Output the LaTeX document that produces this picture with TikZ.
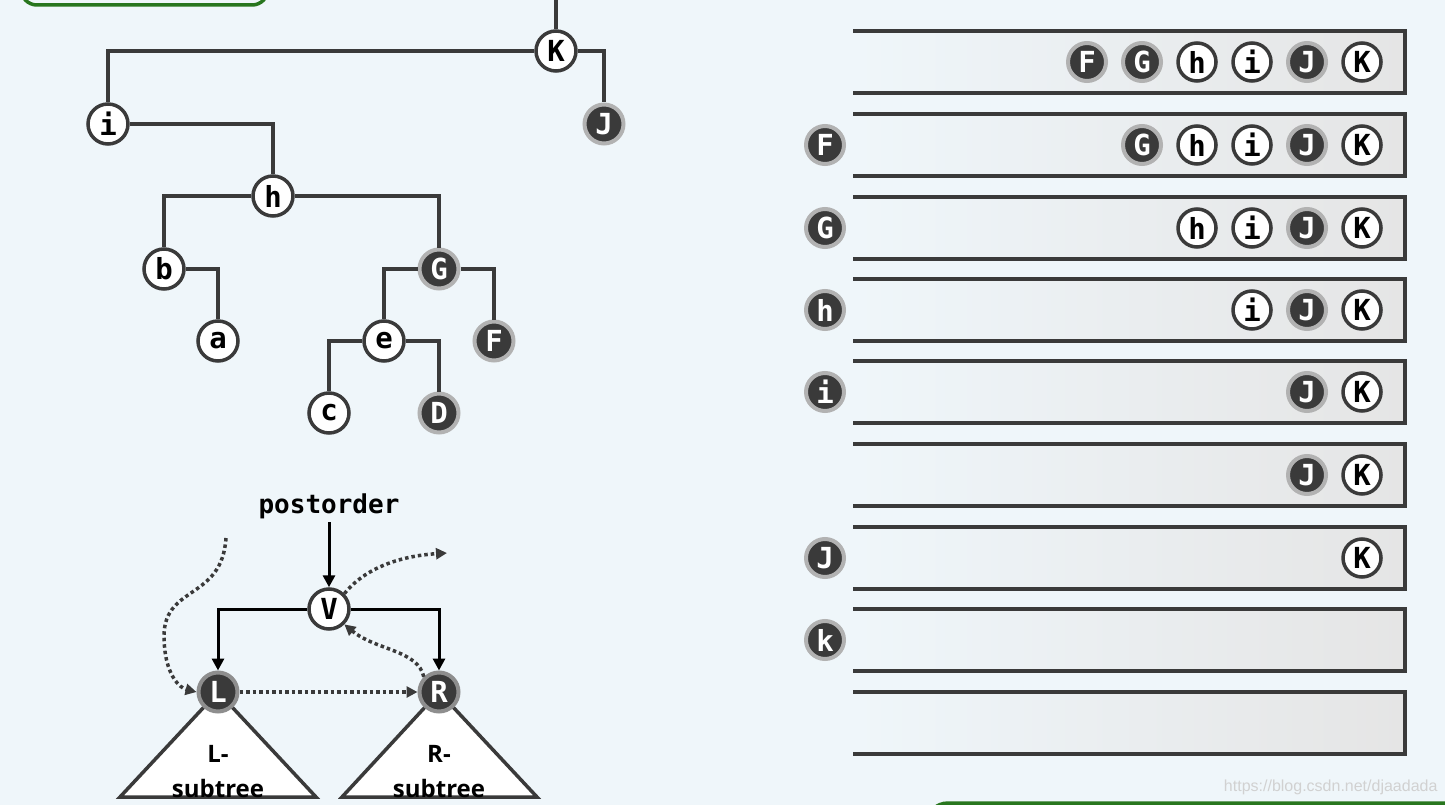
\documentclass[tikz,border=0pt]{standalone}
\usepackage{fontspec}
\setmainfont{DejaVu Sans}
\newfontfamily\nf{DejaVu Sans Mono}
\newfontfamily\lf{Open Sans}
\newfontfamily\wf{Liberation Sans}
\usetikzlibrary{arrows.meta}
\definecolor{bg}{RGB}{239,246,250}
\definecolor{dk}{RGB}{58,58,58}
\definecolor{dfill}{RGB}{58,58,58}
\definecolor{ring}{RGB}{178,178,178}
\definecolor{grn}{RGB}{40,118,30}
\definecolor{barr}{RGB}{229,229,229}
\begin{document}
\begin{tikzpicture}[x=1pt,y=-1pt,
  wn/.style={circle,draw=dk,line width=3.5pt,fill=white,minimum size=40pt,inner sep=0pt,
    font=\nf\bfseries\fontsize{29}{29}\selectfont},
  bn/.style={circle,draw=ring,line width=4pt,fill=dfill,text=white,minimum size=39pt,inner sep=0pt,
    font=\nf\bfseries\fontsize{29}{29}\selectfont},
  sw/.style={wn,minimum size=38pt},
  sb/.style={bn,minimum size=38pt},
  edge/.style={draw=dk,line width=3.5pt},
  dotarr/.style={draw=dk,line width=3.5pt,dash pattern=on 3.5pt off 3pt,-{Triangle[length=11pt,width=11pt]}},
  solarr/.style={draw=black,line width=3pt,-{Triangle[length=12pt,width=12pt]}},
  barline/.style={draw=dk,line width=4pt},
  tri/.style={draw=dk,line width=3.5pt,fill=white},
  lbl/.style={font=\lf\bfseries\fontsize{24}{24}\selectfont,text=black}
]
\useasboundingbox (0,0) rectangle (1445,805);
\fill[bg] (0,0) rectangle (1445,805);
\begin{scope}
\clip (0,0) rectangle (1445,805);
% green boxes
\draw[grn,line width=3.5pt,rounded corners=16pt] (21,-40) rectangle (268,5);
\draw[grn,line width=3.5pt,rounded corners=22pt] (926,803) rectangle (1500,860);
% watermark
\node[font=\wf\fontsize{16}{16}\selectfont,text=black!18,anchor=east] (wm) at (1441,787) {https://blog.csdn.net/djaadada};

% ---------- tree ----------
\coordinate (top) at (556,-5);
\node[wn] (K) at (556,51) {K};
\node[bn] (J) at (604,124) {J};
\node[wn] (i) at (108,124) {i};
\node[wn] (h) at (273,196) {h};
\node[wn] (b) at (164,269) {b};
\node[wn] (a) at (218,341) {a};
\node[bn] (G) at (439,269) {G};
\node[wn] (e) at (384,341) {e};
\node[bn] (F) at (494,341) {F};
\node[wn] (c) at (329,413) {c};
\node[bn] (D) at (439,413) {D};
\draw[edge] (K) -- (top);
\draw[edge] (K) -| (i);
\draw[edge] (K) -| (J);
\draw[edge] (i) -| (h);
\draw[edge] (h) -| (b);
\draw[edge] (h) -| (G);
\draw[edge] (b) -| (a);
\draw[edge] (G) -| (e);
\draw[edge] (G) -| (F);
\draw[edge] (e) -| (c);
\draw[edge] (e) -| (D);

% ---------- postorder diagram ----------
\draw[tri] (218,692) -- (316,797) -- (120,797) -- cycle;
\draw[tri] (439,692) -- (537,797) -- (342,797) -- cycle;
\node[lbl] (lt1) at (218,754) {L-};
\node[lbl] (lt2) at (218,788) {subtree};
\node[lbl] (rt1) at (439,754) {R-};
\node[lbl] (rt2) at (439,788) {subtree};
\node[font=\nf\bfseries\fontsize{26}{26}\selectfont] (po) at (329,506) {postorder};
\node[wn] (V) at (329,609) {V};
\node[bn,draw=ring!80!black] (L) at (218,692) {L};
\node[bn,draw=ring!80!black] (R) at (439,692) {R};
\draw[solarr] (po) -- (V);
\draw[solarr] (V) -| (L);
\draw[solarr] (V) -| (R);
\coordinate (in) at (226,538);
\coordinate (out) at (447,553);
\draw[dotarr] (in) .. controls (222,600) and (165,585) .. (164,635) .. controls (164,675) and (180,688) .. (L.west);
\draw[dotarr] (V.north east) .. controls (365,568) and (400,556) .. (out);
\draw[dotarr] (R.north west) .. controls (418,650) and (375,650) .. (V.south east);
\draw[dotarr] (L) -- (R);

% ---------- stacks ----------
\foreach \y in {62,145,228,310,392,475,558,640,723}{
  \shade[left color=bg,right color=barr] (853,\y-31) rectangle (1405,\y+31);
  \draw[barline] (853,\y-31) -- (1405,\y-31) -- (1405,\y+31) -- (853,\y+31);
}
% row 1
\node[sb] (s1F) at (1087,62) {F};
\node[sb] (s1G) at (1142,62) {G};
\node[sw] (s1h) at (1197,62) {h};
\node[sw] (s1i) at (1252,62) {i};
\node[sb] (s1J) at (1307,62) {J};
\node[sw] (s1K) at (1362,62) {K};
% row 2
\node[sb] (p2) at (825,145) {F};
\node[sb] (s2G) at (1142,145) {G};
\node[sw] (s2h) at (1197,145) {h};
\node[sw] (s2i) at (1252,145) {i};
\node[sb] (s2J) at (1307,145) {J};
\node[sw] (s2K) at (1362,145) {K};
% row 3
\node[sb] (p3) at (825,228) {G};
\node[sw] (s3h) at (1197,228) {h};
\node[sw] (s3i) at (1252,228) {i};
\node[sb] (s3J) at (1307,228) {J};
\node[sw] (s3K) at (1362,228) {K};
% row 4
\node[sb] (p4) at (825,310) {h};
\node[sw] (s4i) at (1252,310) {i};
\node[sb] (s4J) at (1307,310) {J};
\node[sw] (s4K) at (1362,310) {K};
% row 5
\node[sb] (p5) at (825,392) {i};
\node[sb] (s5J) at (1307,392) {J};
\node[sw] (s5K) at (1362,392) {K};
% row 6
\node[sb] (s6J) at (1307,475) {J};
\node[sw] (s6K) at (1362,475) {K};
% row 7
\node[sb] (p7) at (825,558) {J};
\node[sw] (s7K) at (1362,558) {K};
% row 8
\node[sb] (p8) at (825,640) {k};
\end{scope}
\end{tikzpicture}
\end{document}
